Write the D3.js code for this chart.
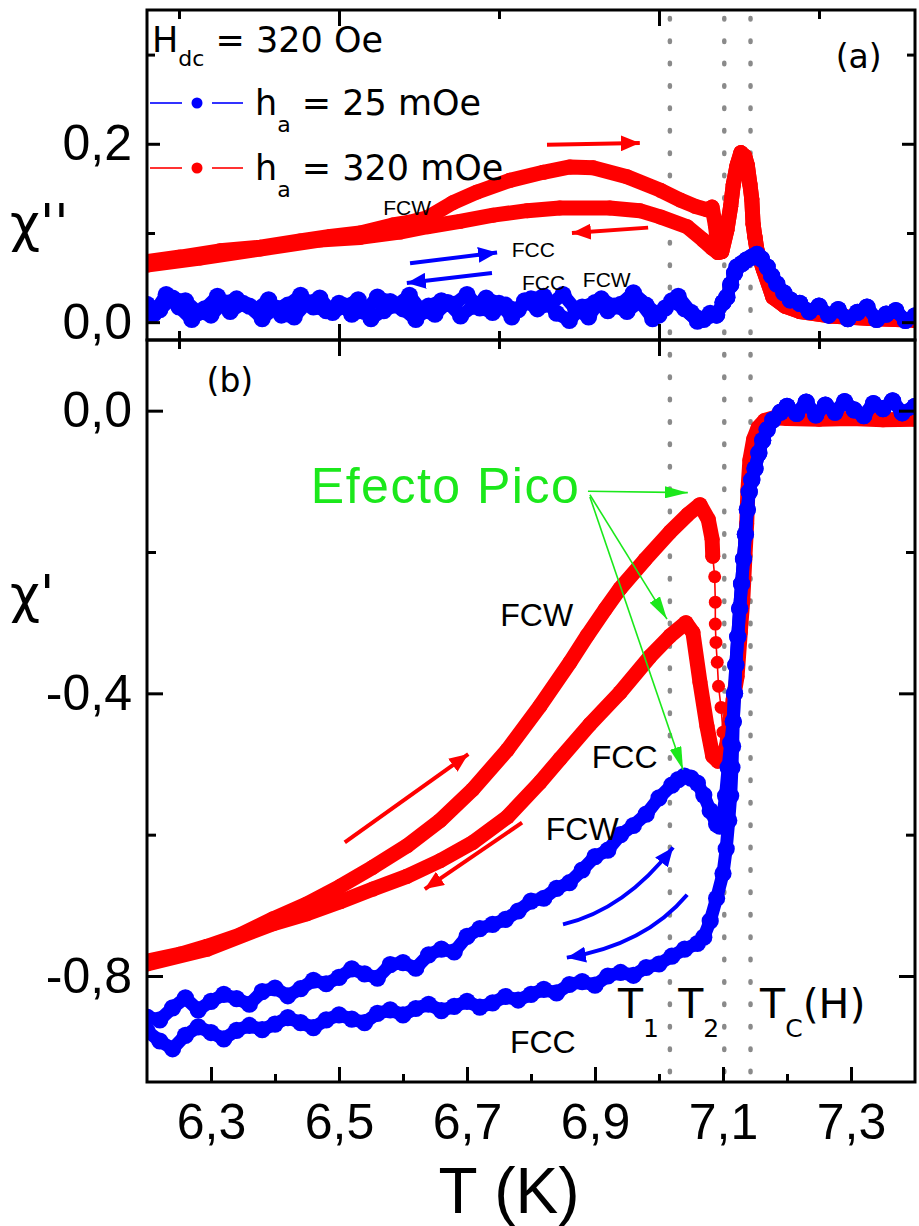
<!DOCTYPE html>
<html>
<head>
<meta charset="utf-8">
<script src="https://cdn.jsdelivr.net/npm/d3@7/dist/d3.min.js"></script>
<style>
  html, body { margin: 0; padding: 0; background: #fff; }
  svg { display: block; }
</style>
</head>
<body>
<svg id="chart" width="919" height="1226"></svg>
<script>
// ---------- axes ----------
const xMajorTicks = [6.3, 6.5, 6.7, 6.9, 7.1, 7.3];
const xMajorLabels = ["6,3", "6,5", "6,7", "6,9", "7,1", "7,3"];
const xMinorTicks = [6.4, 6.6, 6.8, 7.0, 7.2];
const xTopMajor = [6.5, 7.0];
const xTopMinor = [6.25, 6.75, 7.25];

const yaMajorTicks = [0.0, 0.2];
const yaMajorLabels = ["0,0", "0,2"];
const yaMinorTicks = [0.1, 0.3];

const ybMajorTicks = [0.0, -0.4, -0.8];
const ybMajorLabels = ["0,0", "-0,4", "-0,8"];
const ybMinorTicks = [-0.2, -0.6];

// characteristic temperatures T1, T2, Tc(H)
const markerTemps = [7.017, 7.102, 7.143];

// ---------- panel (a): chi'' [T, chi''] ----------
const redWarmA = [[6.200,0.068],[6.252,0.073],[6.314,0.080],[6.377,0.084],[6.439,0.091],[6.486,0.096],
  [6.533,0.100],[6.584,0.109],[6.610,0.112],[6.638,0.117],[6.678,0.134],[6.716,0.146],[6.767,0.159],
  [6.819,0.168],[6.861,0.174],[6.897,0.173],[6.950,0.163],[7.002,0.148],[7.033,0.137],[7.056,0.130],
  [7.075,0.126],[7.083,0.129],[7.088,0.109],[7.092,0.085]];
const redCoolA = [[6.200,0.064],[6.283,0.072],[6.377,0.082],[6.470,0.092],[6.533,0.095],[6.595,0.101],
  [6.638,0.107],[6.689,0.113],[6.741,0.120],[6.794,0.125],[6.845,0.128],[6.923,0.128],[6.970,0.125],
  [7.002,0.118],[7.044,0.107],[7.069,0.092],[7.083,0.083],[7.092,0.078]];
const redPeakA = [[7.098,0.079],[7.106,0.103],[7.112,0.130],[7.116,0.154],[7.122,0.176],[7.128,0.190],
  [7.134,0.186],[7.138,0.176],[7.142,0.155],[7.145,0.138],[7.147,0.110],[7.150,0.095],[7.153,0.081],
  [7.163,0.059],[7.178,0.028],[7.197,0.018],[7.220,0.012],[7.267,0.007],[7.330,0.004],[7.400,0.002]];
const blueWarmA = [[6.20,0.020],[6.22,0.014],[6.24,0.027],[6.26,0.024],[6.28,0.011],[6.30,0.008],
  [6.32,0.022],[6.34,0.026],[6.36,0.018],[6.38,0.004],[6.40,0.016],[6.42,0.019],[6.44,0.030],
  [6.46,0.017],[6.48,0.013],[6.50,0.021],[6.52,0.009],[6.54,0.012],[6.56,0.028],[6.58,0.023],
  [6.60,0.015],[6.62,0.003],[6.64,0.018],[6.66,0.024],[6.68,0.020],[6.70,0.031],[6.72,0.016],
  [6.74,0.011],[6.76,0.019],[6.78,0.014],[6.80,0.026],[6.82,0.029],[6.84,0.010],[6.86,0.002],
  [6.88,0.017],[6.90,0.022],[6.92,0.013],[6.94,0.020],[6.96,0.033],[6.98,0.019],[7.00,0.008],
  [7.02,0.024],[7.04,0.015],[7.06,0.001],[7.08,0.010]];
const blueCoolA = [[6.21,0.009],[6.23,0.031],[6.25,0.017],[6.27,0.003],[6.29,0.015],[6.31,0.029],
  [6.33,0.012],[6.35,0.021],[6.37,0.014],[6.39,0.025],[6.41,0.008],[6.43,0.006],[6.45,0.022],
  [6.47,0.027],[6.49,0.011],[6.51,0.018],[6.53,0.025],[6.55,0.004],[6.57,0.013],[6.59,0.019],
  [6.61,0.030],[6.63,0.012],[6.65,0.009],[6.67,0.022],[6.69,0.007],[6.71,0.018],[6.73,0.027],
  [6.75,0.021],[6.77,0.006],[6.79,0.024],[6.81,0.015],[6.83,0.020],[6.85,0.031],[6.87,0.014],
  [6.89,0.006],[6.91,0.026],[6.93,0.018],[6.95,0.012],[6.97,0.023],[6.99,0.004],[7.01,0.016],
  [7.03,0.029],[7.05,0.011],[7.07,0.003]];
const bluePeakA = [[7.09,0.008],[7.10,0.022],[7.106,0.028],[7.112,0.042],[7.118,0.055],[7.122,0.062],
  [7.130,0.066],[7.137,0.070],[7.145,0.073],[7.153,0.076],[7.160,0.071],[7.169,0.062],[7.176,0.052],
  [7.184,0.043],[7.195,0.033],[7.205,0.025],[7.220,0.021],[7.235,0.012],[7.250,0.018],[7.265,0.008],
  [7.280,0.014],[7.295,0.004],[7.310,0.011],[7.325,0.017],[7.340,0.003],[7.355,0.009],[7.370,0.013],
  [7.385,0.002],[7.400,0.007]];

// ---------- panel (b): chi' [T, chi'] ----------
const redWarmB = [[6.200,-0.779],[6.252,-0.769],[6.294,-0.758],[6.345,-0.742],[6.397,-0.719],
  [6.450,-0.698],[6.502,-0.673],[6.553,-0.646],[6.606,-0.616],[6.658,-0.580],[6.709,-0.536],
  [6.763,-0.480],[6.814,-0.418],[6.861,-0.356],[6.888,-0.318],[6.916,-0.281],[6.939,-0.252],
  [6.978,-0.211],[7.017,-0.172],[7.045,-0.147],[7.064,-0.133],[7.077,-0.154],[7.083,-0.182],
  [7.084,-0.206]];
const redDropB = [[7.084,-0.206],[7.087,-0.235],[7.088,-0.271],[7.088,-0.302],[7.089,-0.328],
  [7.091,-0.356],[7.093,-0.390],[7.097,-0.420],[7.100,-0.455]];
const redCoolB = [[6.200,-0.783],[6.294,-0.762],[6.397,-0.726],[6.450,-0.712],[6.502,-0.695],
  [6.553,-0.677],[6.606,-0.659],[6.658,-0.637],[6.709,-0.611],[6.763,-0.575],[6.814,-0.526],
  [6.845,-0.493],[6.892,-0.444],[6.939,-0.399],[6.986,-0.348],[7.017,-0.319],[7.042,-0.300],
  [7.053,-0.314],[7.064,-0.384],[7.075,-0.447],[7.084,-0.489],[7.092,-0.496],[7.100,-0.493]];
const redRiseB = [[7.106,-0.472],[7.111,-0.437],[7.116,-0.408],[7.122,-0.376],[7.127,-0.314],
  [7.131,-0.267],[7.134,-0.211],[7.137,-0.160],[7.139,-0.112],[7.142,-0.070],[7.148,-0.040],
  [7.155,-0.024],[7.165,-0.014],[7.180,-0.010],[7.200,-0.011],[7.250,-0.012],[7.300,-0.011],
  [7.350,-0.013],[7.400,-0.012]];
const blueWarmB = [[6.20,-0.858],[6.22,-0.862],[6.24,-0.845],[6.26,-0.831],[6.28,-0.848],[6.30,-0.836],
  [6.32,-0.826],[6.34,-0.832],[6.36,-0.840],[6.38,-0.822],[6.40,-0.817],[6.42,-0.828],[6.44,-0.818],
  [6.46,-0.806],[6.48,-0.811],[6.50,-0.802],[6.52,-0.790],[6.54,-0.797],[6.56,-0.803],[6.58,-0.784],
  [6.60,-0.781],[6.62,-0.789],[6.64,-0.770],[6.66,-0.762],[6.68,-0.766],[6.70,-0.744],[6.72,-0.733],
  [6.74,-0.727],[6.76,-0.720],[6.78,-0.708],[6.80,-0.694],[6.82,-0.690],[6.84,-0.676],[6.86,-0.668],
  [6.88,-0.650],[6.90,-0.631],[6.92,-0.622],[6.94,-0.600],[6.96,-0.587],[6.98,-0.571],[7.00,-0.548],
  [7.02,-0.530],[7.03,-0.522],[7.04,-0.517],[7.05,-0.520],[7.06,-0.527],[7.07,-0.544],[7.08,-0.566],
  [7.09,-0.585],[7.095,-0.588],[7.100,-0.572],[7.104,-0.545],[7.108,-0.505],[7.112,-0.470]];
const blueCoolB = [[6.20,-0.878],[6.22,-0.892],[6.24,-0.903],[6.26,-0.884],[6.28,-0.872],[6.30,-0.880],
  [6.32,-0.889],[6.34,-0.877],[6.36,-0.870],[6.38,-0.876],[6.40,-0.868],[6.42,-0.859],[6.44,-0.866],
  [6.46,-0.873],[6.48,-0.862],[6.50,-0.855],[6.52,-0.861],[6.54,-0.866],[6.56,-0.853],[6.58,-0.848],
  [6.60,-0.855],[6.62,-0.846],[6.64,-0.840],[6.66,-0.849],[6.68,-0.843],[6.70,-0.836],[6.72,-0.844],
  [6.74,-0.838],[6.76,-0.829],[6.78,-0.834],[6.80,-0.826],[6.82,-0.819],[6.84,-0.824],[6.86,-0.812],
  [6.88,-0.808],[6.90,-0.813],[6.92,-0.800],[6.94,-0.795],[6.96,-0.799],[6.98,-0.788],[7.00,-0.783],
  [7.02,-0.772],[7.04,-0.762],[7.06,-0.754],[7.07,-0.745],[7.08,-0.722],[7.09,-0.690],[7.10,-0.655],
  [7.105,-0.620],[7.109,-0.580],[7.112,-0.545],[7.114,-0.505],[7.115,-0.475]];
const blueRiseB = [[7.116,-0.440],[7.118,-0.400],[7.120,-0.360],[7.123,-0.320],[7.126,-0.280],
  [7.129,-0.245],[7.132,-0.210],[7.135,-0.175],[7.138,-0.140],[7.141,-0.115],[7.145,-0.098],
  [7.150,-0.082],[7.156,-0.060],[7.162,-0.042],[7.169,-0.027],[7.178,-0.013],[7.190,-0.002],
  [7.200,0.006],[7.215,-0.004],[7.230,0.012],[7.245,-0.006],[7.260,0.008],[7.275,-0.002],
  [7.290,0.013],[7.305,0.001],[7.320,-0.007],[7.335,0.010],[7.350,0.003],[7.365,0.014],
  [7.380,-0.003],[7.400,0.006]];

// ---------- drawing ----------
const RED = "#ff0000", BLUE = "#0000ff", GREEN = "#1be81b", GREY = "#8a8a8a";
const svg = d3.select("#chart");

const L = 147, R = 915, TOP_A = 10, BOT_A = 340, TOP_B = 340, BOT_B = 1082;
const x = d3.scaleLinear().domain([6.2, 7.4]).range([L, R]);
const ya = d3.scaleLinear().domain([-0.02, 0.35]).range([BOT_A, TOP_A]);
const yb = d3.scaleLinear().domain([-0.95, 0.1]).range([BOT_B, TOP_B]);

const defs = svg.append("defs");
defs.append("clipPath").attr("id", "clipA").append("rect")
  .attr("x", L).attr("y", TOP_A).attr("width", R - L).attr("height", BOT_A - TOP_A);
defs.append("clipPath").attr("id", "clipB").append("rect")
  .attr("x", L).attr("y", TOP_B).attr("width", R - L).attr("height", BOT_B - TOP_B);

function arrowMarker(id, color, len, wid) {
  defs.append("marker").attr("id", id)
    .attr("viewBox", `0 0 ${len} ${wid}`)
    .attr("refX", len).attr("refY", wid / 2)
    .attr("markerWidth", len).attr("markerHeight", wid)
    .attr("markerUnits", "userSpaceOnUse").attr("orient", "auto")
    .append("path").attr("d", `M0,0 L${len},${wid / 2} L0,${wid} Z`).attr("fill", color);
}
arrowMarker("headRed", RED, 19, 16);
arrowMarker("headBlue", BLUE, 19, 16);
arrowMarker("headGreen", GREEN, 23, 12);

// dotted guides at T1, T2, Tc(H)
svg.append("g").selectAll("line").data(markerTemps).join("line")
  .attr("x1", d => x(d)).attr("x2", d => x(d))
  .attr("y1", 18).attr("y2", BOT_B)
  .attr("stroke", GREY).attr("stroke-width", 4.5)
  .attr("stroke-linecap", "round").attr("stroke-dasharray", "1.5 20.9");

// band = thick stroke through the points, then a dot on every measured point
function drawSeries(g, data, ys, color, band, r) {
  const line = d3.line().x(d => x(d[0])).y(d => ys(d[1]));
  if (band > 0) {
    g.append("path").attr("d", line(data)).attr("fill", "none")
      .attr("stroke", color).attr("stroke-width", band)
      .attr("stroke-linejoin", "round").attr("stroke-linecap", "round");
  }
  g.append("path").attr("d", line(data)).attr("fill", "none")
    .attr("stroke", color).attr("stroke-width", 1.6);
  g.append("g").selectAll("circle").data(data).join("circle")
    .attr("cx", d => x(d[0])).attr("cy", d => ys(d[1]))
    .attr("r", r).attr("fill", color);
}

const gA = svg.append("g").attr("clip-path", "url(#clipA)");
drawSeries(gA, redWarmA.concat(redPeakA), ya, RED, 15, 7.5);
drawSeries(gA, redCoolA.concat(redPeakA), ya, RED, 15, 7.5);
drawSeries(gA, blueWarmA.concat(bluePeakA), ya, BLUE, 13, 8.6);
drawSeries(gA, blueCoolA.concat(bluePeakA), ya, BLUE, 13, 8.6);

const gB = svg.append("g").attr("clip-path", "url(#clipB)");
drawSeries(gB, redWarmB, yb, RED, 15, 7.5);
drawSeries(gB, redDropB.concat([redRiseB[0]]), yb, RED, 0, 6.5);
drawSeries(gB, redCoolB.concat(redRiseB), yb, RED, 15, 7.5);
drawSeries(gB, blueWarmB.concat(blueRiseB), yb, BLUE, 13, 8.6);
drawSeries(gB, blueCoolB.concat(blueRiseB), yb, BLUE, 13, 8.6);

// ---------- frames and ticks ----------
function styleAxis(g) {
  g.select(".domain").remove();
  g.selectAll(".tick line").attr("stroke", "#000").attr("stroke-width", 3);
  g.selectAll(".tick text").attr("fill", "#000")
    .attr("font-family", "'Liberation Sans', Arial, sans-serif").attr("font-size", 50);
}
function ticks(axisFn, scale, values, size, pos, labels, pad) {
  const a = axisFn(scale).tickValues(values).tickSize(size).tickPadding(pad || 0)
    .tickFormat(labels ? (d, i) => labels[i] : () => "");
  svg.append("g").attr("transform", pos).call(a).call(styleAxis);
}
// panel (a)
ticks(d3.axisLeft, ya, yaMajorTicks, -13, `translate(${L},0)`, yaMajorLabels, 15);
ticks(d3.axisLeft, ya, yaMinorTicks, -8, `translate(${L},0)`);
ticks(d3.axisRight, ya, yaMajorTicks, -13, `translate(${R},0)`);
ticks(d3.axisRight, ya, yaMinorTicks, -8, `translate(${R},0)`);
ticks(d3.axisTop, x, xTopMajor, -16, `translate(0,${TOP_A})`);
ticks(d3.axisTop, x, xTopMinor, -9, `translate(0,${TOP_A})`);
ticks(d3.axisBottom, x, xTopMajor, -16, `translate(0,${BOT_A})`);
ticks(d3.axisBottom, x, xTopMinor, -9, `translate(0,${BOT_A})`);
// panel (b)
ticks(d3.axisTop, x, xTopMajor, -16, `translate(0,${TOP_B})`);
ticks(d3.axisTop, x, xTopMinor, -9, `translate(0,${TOP_B})`);
ticks(d3.axisLeft, yb, ybMajorTicks, -16, `translate(${L},0)`, ybMajorLabels, 15);
ticks(d3.axisLeft, yb, ybMinorTicks, -9, `translate(${L},0)`);
ticks(d3.axisRight, yb, ybMajorTicks, -16, `translate(${R},0)`);
ticks(d3.axisRight, yb, ybMinorTicks, -9, `translate(${R},0)`);
ticks(d3.axisBottom, x, xMajorTicks, -15, `translate(0,${BOT_B})`, xMajorLabels, 21);
ticks(d3.axisBottom, x, xMinorTicks, -8, `translate(0,${BOT_B})`);

svg.append("rect").attr("x", L).attr("y", TOP_A).attr("width", R - L).attr("height", BOT_A - TOP_A)
  .attr("fill", "none").attr("stroke", "#000").attr("stroke-width", 3);
svg.append("rect").attr("x", L).attr("y", TOP_B).attr("width", R - L).attr("height", BOT_B - TOP_B)
  .attr("fill", "none").attr("stroke", "#000").attr("stroke-width", 3);

// ---------- axis titles ----------
const ARIAL = "'Liberation Sans', Arial, sans-serif";
const SANS = "'DejaVu Sans', Verdana, sans-serif";
svg.append("text").attr("x", 509).attr("y", 1213).attr("text-anchor", "middle")
  .attr("font-family", ARIAL).attr("font-size", 64).text("T (K)");
svg.append("text").attr("x", 10).attr("y", 241)
  .attr("font-family", SANS).attr("font-size", 52).text("χ''");
svg.append("text").attr("x", 10).attr("y", 612)
  .attr("font-family", SANS).attr("font-size", 52).text("χ'");

// ---------- legend ----------
function subText(px, py, main, sub, rest, size, subSize, dy) {
  const t = svg.append("text").attr("x", px).attr("y", py)
    .attr("font-family", SANS).attr("font-size", size);
  t.append("tspan").text(main);
  t.append("tspan").attr("font-size", subSize).attr("dy", dy).text(sub);
  t.append("tspan").attr("dy", -dy).text(rest);
  return t;
}
subText(152, 52, "H", "dc", " = 320 Oe", 35, 22, 14);
const legendRows = [{ color: BLUE, y: 103, label: " = 25 mOe" }, { color: RED, y: 168, label: " = 320 mOe" }];
legendRows.forEach(r => {
  svg.append("line").attr("x1", 150).attr("x2", 182).attr("y1", r.y).attr("y2", r.y)
    .attr("stroke", r.color).attr("stroke-width", 1.6);
  svg.append("line").attr("x1", 212).attr("x2", 243).attr("y1", r.y).attr("y2", r.y)
    .attr("stroke", r.color).attr("stroke-width", 1.6);
  svg.append("circle").attr("cx", 197).attr("cy", r.y).attr("r", 5.5).attr("fill", r.color);
  subText(255, r.y + 12, "h", "a", r.label, 35, 22, 17);
});

// ---------- annotations (data coordinates) ----------
function label(t, v, ys, txt, size, family, color, anchor, spacing) {
  svg.append("text").attr("x", x(t)).attr("y", ys(v))
    .attr("font-family", family).attr("font-size", size)
    .attr("letter-spacing", spacing || 0)
    .attr("fill", color || "#000").attr("text-anchor", anchor || "start").text(txt);
}
function arrow(p0, p1, ys, color, marker, width) {
  svg.append("line").attr("x1", x(p0[0])).attr("y1", ys(p0[1]))
    .attr("x2", x(p1[0])).attr("y2", ys(p1[1]))
    .attr("stroke", color).attr("stroke-width", width).attr("marker-end", `url(#${marker})`);
}
function curvedArrow(p0, c, p1, ys, color, marker, width) {
  const path = d3.path();
  path.moveTo(x(p0[0]), ys(p0[1]));
  path.quadraticCurveTo(x(c[0]), ys(c[1]), x(p1[0]), ys(p1[1]));
  svg.append("path").attr("d", path.toString()).attr("fill", "none")
    .attr("stroke", color).attr("stroke-width", width).attr("marker-end", `url(#${marker})`);
}

// panel (a)
label(7.276, 0.285, ya, "(a)", 33, SANS);
label(6.569, 0.120, ya, "FCW", 21, ARIAL);
label(6.770, 0.073, ya, "FCC", 21, ARIAL);
label(6.786, 0.036, ya, "FCC", 21, ARIAL);
label(6.881, 0.039, ya, "FCW", 21, ARIAL);
arrow([6.825, 0.199], [6.970, 0.201], ya, RED, "headRed", 4);
arrow([6.983, 0.106], [6.864, 0.100], ya, RED, "headRed", 4);
arrow([6.611, 0.066], [6.747, 0.078], ya, BLUE, "headBlue", 4);
arrow([6.739, 0.055], [6.606, 0.044], ya, BLUE, "headBlue", 4);

// panel (b)
label(6.293, 0.026, yb, "(b)", 33, SANS);
label(6.752, -0.305, yb, "FCW", 32, ARIAL);
label(6.895, -0.505, yb, "FCC", 32, ARIAL);
label(6.823, -0.607, yb, "FCW", 32, ARIAL);
label(6.767, -0.909, yb, "FCC", 32, ARIAL);
label(6.877, -0.130, yb, "Efecto Pico", 50, ARIAL, GREEN, "end", 1.5);
arrow([6.509, -0.611], [6.702, -0.486], yb, RED, "headRed", 4);
arrow([6.786, -0.583], [6.634, -0.677], yb, RED, "headRed", 4);
curvedArrow([6.850, -0.727], [6.947, -0.706], [7.022, -0.618], yb, BLUE, "headBlue", 4);
curvedArrow([7.044, -0.685], [6.978, -0.756], [6.856, -0.774], yb, BLUE, "headBlue", 4);
arrow([6.889, -0.114], [7.045, -0.116], yb, GREEN, "headGreen", 1.6);
arrow([6.892, -0.119], [7.0125, -0.295], yb, GREEN, "headGreen", 1.6);
arrow([6.892, -0.122], [7.0375, -0.508], yb, GREEN, "headGreen", 1.6);

// T1, T2, Tc(H)
const tLabels = [{ t: 6.936, sub: "1", rest: "" }, { t: 7.030, sub: "2", rest: "" }, { t: 7.158, sub: "C", rest: "(H)" }];
tLabels.forEach(d => {
  const t = svg.append("text").attr("x", x(d.t)).attr("y", yb(-0.859))
    .attr("font-family", SANS).attr("font-size", 41);
  t.append("tspan").text("T");
  t.append("tspan").attr("font-size", 25).attr("dy", 19).text(d.sub);
  if (d.rest) t.append("tspan").attr("dy", -19).text(d.rest);
});
</script>
</body>
</html>
